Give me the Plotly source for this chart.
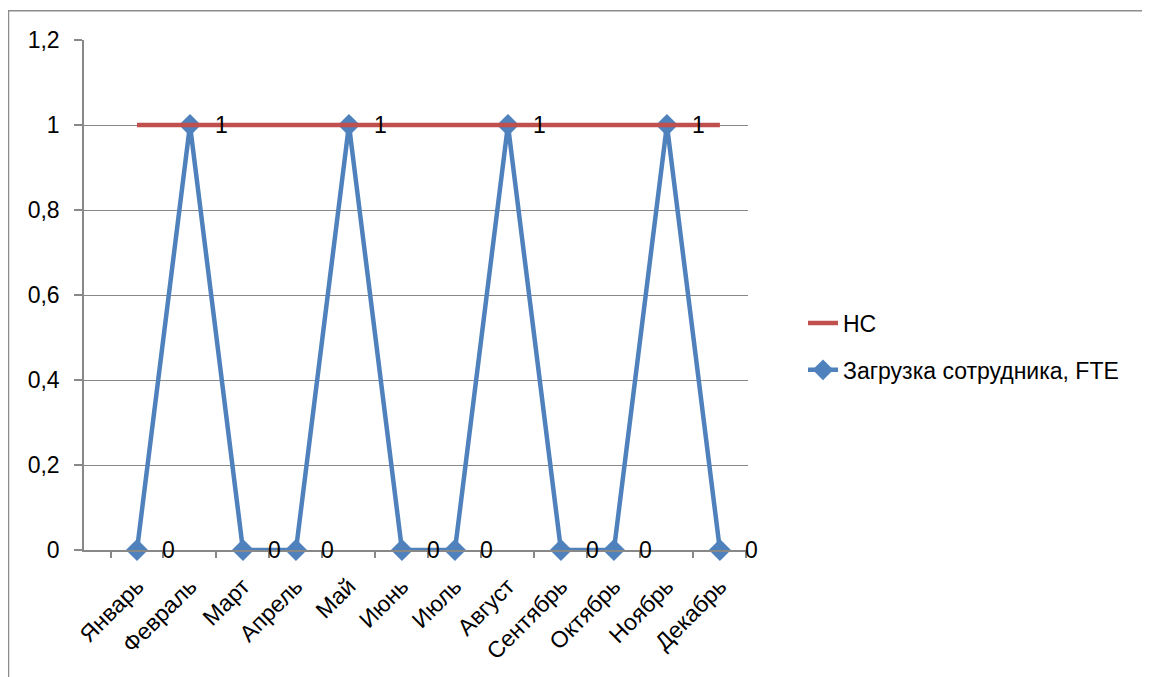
import plotly.graph_objects as go

months = ["Январь", "Февраль", "Март", "Апрель", "Май", "Июнь",
          "Июль", "Август", "Сентябрь", "Октябрь", "Ноябрь", "Декабрь"]
fte = [0, 1, 0, 0, 1, 0, 0, 1, 0, 0, 1, 0]
hc = [1, 1, 1, 1, 1, 1, 1, 1, 1, 1, 1, 1]
y_ticks = [0, 0.2, 0.4, 0.6, 0.8, 1, 1.2]
y_tick_text = ["0", "0,2", "0,4", "0,6", "0,8", "1", "1,2"]

FONT = "Liberation Sans"
FS = 23
BLUE = "#4F81BD"
RED = "#C0504D"
GRAY = "#888888"

fig = go.Figure()
fig.add_trace(go.Scatter(
    x=months, y=fte, mode="lines+markers", name="Загрузка сотрудника, FTE",
    line=dict(color=BLUE, width=4.5),
    marker=dict(symbol="diamond", size=17, color=BLUE),
    cliponaxis=False, legendgroup="a", legendrank=2,
))
fig.add_trace(go.Scatter(
    x=months, y=hc, mode="lines", name="НС",
    line=dict(color=RED, width=4.5),
    cliponaxis=False, legendgroup="b", legendrank=1,
))

for m, v in zip(months, fte):
    fig.add_annotation(x=m, y=v, text=str(v), showarrow=False, xshift=32,
                       font=dict(family=FONT, size=FS, color="black"))

# page is offset by the 8px body margin
L, R, T, B = 76, 740, 32, 542
W, H = 1142, 669
pw, ph = R - L, B - T

def px_x(p):
    return (p - L) / pw

def px_y(p):
    return (B - p) / ph

fig.add_shape(type="rect", xref="paper", yref="paper",
              x0=px_x(0.5), x1=px_x(1160), y0=px_y(2.7), y1=px_y(690),
              line=dict(color="#8C8C8C", width=1.5), layer="below")

fig.update_layout(
    width=W, height=H,
    margin=dict(l=L, r=W - R, t=T, b=H - B, autoexpand=False),
    paper_bgcolor="white", plot_bgcolor="white",
    font=dict(family=FONT, size=FS, color="black"),
    showlegend=True,
    legend=dict(x=px_x(795), y=px_y(338.5), xanchor="left", yanchor="middle",
                traceorder="grouped", tracegroupgap=14,
                font=dict(family=FONT, size=FS, color="black"),
                bgcolor="rgba(0,0,0,0)"),
    xaxis=dict(type="category", range=[-1, 11.53], tickson="boundaries",
               showline=True, linecolor=GRAY, linewidth=1.5,
               ticks="outside", ticklen=6, tickcolor=GRAY, tickwidth=1.5,
               showgrid=False, tickangle=-45, zeroline=False, automargin=False,
               ticklabelstandoff=12,
               tickfont=dict(family=FONT, size=FS, color="black")),
    yaxis=dict(range=[0, 1.2], tickvals=y_ticks, ticktext=y_tick_text,
               showline=True, linecolor=GRAY, linewidth=1.5,
               ticks="outside", ticklen=8, tickcolor=GRAY, tickwidth=1.5,
               showgrid=True, gridcolor=GRAY, gridwidth=1.2, zeroline=False,
               ticklabelstandoff=10, automargin=False,
               tickfont=dict(family=FONT, size=FS, color="black")),
)

fig.write_html("out.html")
